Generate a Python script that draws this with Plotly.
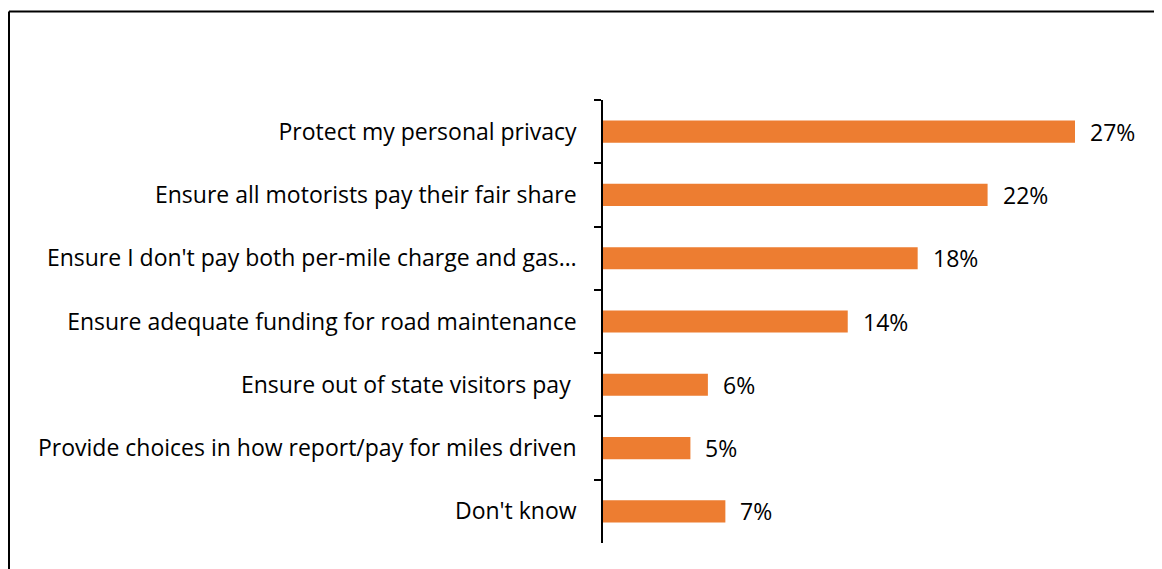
import plotly.graph_objects as go

categories = [
    "Protect my personal privacy",
    "Ensure all motorists pay their fair share",
    "Ensure I don't pay both per-mile charge and gas…",
    "Ensure adequate funding for road maintenance",
    "Ensure out of state visitors pay ",
    "Provide choices in how report/pay for miles driven",
    "Don't know",
]
shares = [27, 22, 18, 14, 6, 5, 7]
value_labels = ["27%", "22%", "18%", "14%", "6%", "5%", "7%"]

BAR_COLOR = "#ED7D31"
FONT = "Open Sans, sans-serif"

# page has an 8px body margin, so the figure is a bit smaller than the window
W, H = 1154, 561
M_L, M_R, M_T, M_B = 595, 22, 92, 26
plot_w = W - M_L - M_R
plot_h = H - M_T - M_B

fig = go.Figure()
fig.add_trace(go.Bar(
    y=categories,
    x=shares,
    orientation="h",
    marker=dict(color=BAR_COLOR, line=dict(width=0)),
    hoverinfo="skip",
))

# value labels just right of each bar
for cat, val, lab in zip(categories, shares, value_labels):
    fig.add_annotation(
        x=val, y=cat, text=lab, showarrow=False,
        xanchor="left", xshift=13,
        font=dict(family=FONT, size=23, color="#000000"),
    )

# frame around the chart (right/bottom edges fall outside the window)
bx = (1 - M_L) / plot_w
by = (M_T + plot_h - 3.5) / plot_h
fig.add_shape(type="line", xref="paper", yref="paper", x0=bx, x1=2, y0=by, y1=by,
              line=dict(color="#000000", width=2))
fig.add_shape(type="line", xref="paper", yref="paper", x0=bx, x1=bx, y0=by, y1=-1,
              line=dict(color="#000000", width=2))

fig.update_layout(
    width=W, height=H,
    margin=dict(l=M_L, r=M_R, t=M_T, b=M_B, autoexpand=False),
    paper_bgcolor="white",
    plot_bgcolor="white",
    bargap=0.65,
    showlegend=False,
    font=dict(family=FONT, size=23, color="#000000"),
    xaxis=dict(range=[0, plot_w / 472 * 27], visible=False, fixedrange=True),
    yaxis=dict(
        autorange="reversed",
        showline=True, linecolor="#000000", linewidth=1.5,
        ticks="outside", tickson="boundaries", ticklen=7,
        tickcolor="#000000", tickwidth=1.5,
        ticklabelstandoff=20,
        showgrid=False, fixedrange=True,
    ),
)

fig.write_html("out.html")
